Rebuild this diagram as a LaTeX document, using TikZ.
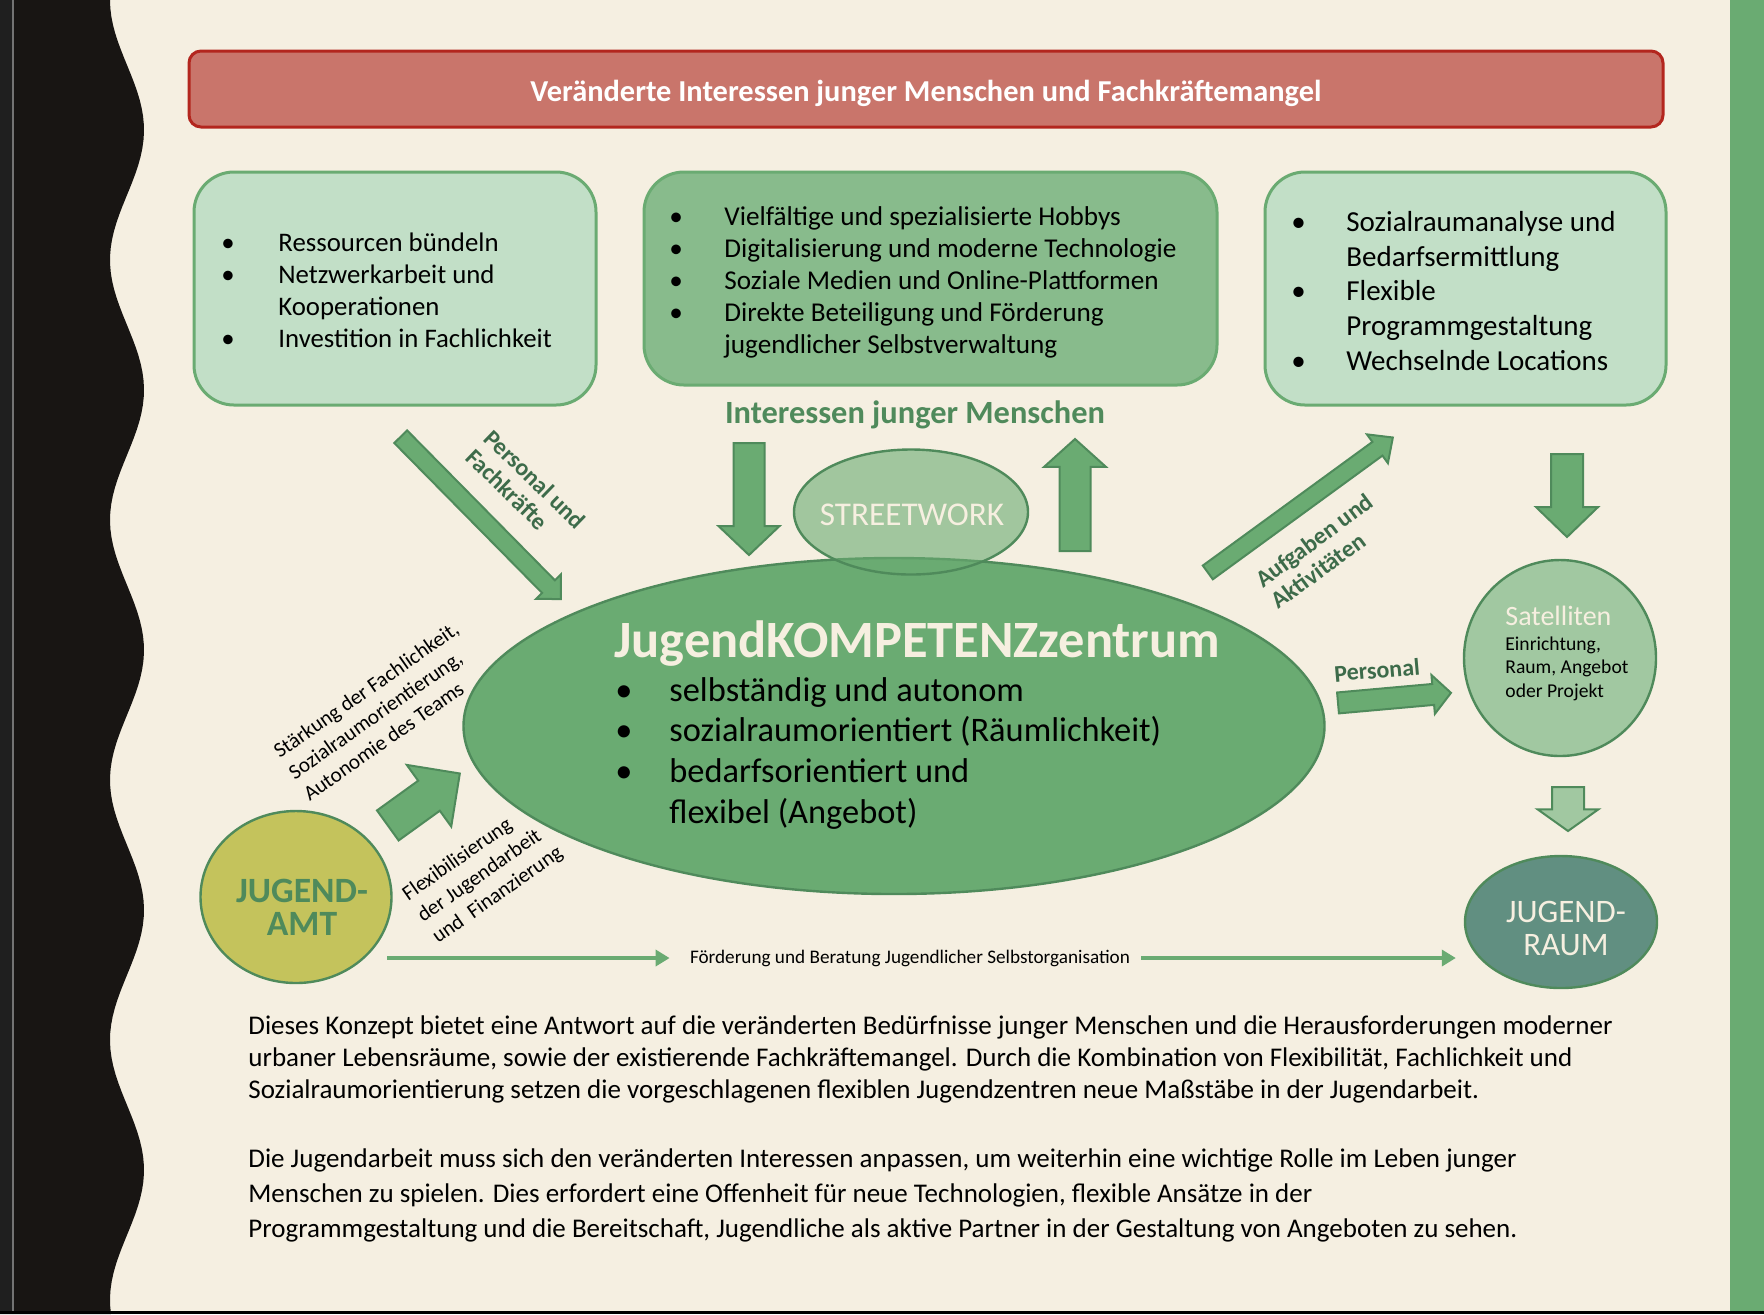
\documentclass[tikz,border=0pt]{standalone}
\usepackage{fontspec}
\setmainfont{Carlito}
\usepackage{xcolor}
\usepackage{tikz}
\usetikzlibrary{arrows.meta,positioning,shapes.geometric,shapes.arrows}

\definecolor{cream}{HTML}{F5EFE1}
\definecolor{inkdark}{HTML}{181513}
\definecolor{bannerfill}{HTML}{C9756B}
\definecolor{bannerline}{HTML}{B3261E}
\definecolor{mint}{HTML}{C2DFC7}
\definecolor{midgreen}{HTML}{88BB8C}
\definecolor{leaf}{HTML}{6AAB72}
\definecolor{darkgreen}{HTML}{4F8A5B}
\definecolor{labelgreen}{HTML}{3D6B4A}
\definecolor{palegreen}{HTML}{A1C8A1}
\definecolor{raumteal}{HTML}{618F81}
\definecolor{amtolive}{HTML}{C4C35C}
\definecolor{creamtext}{HTML}{F6EFE0}

\newcommand{\bul}[1][27.5pt]{\makebox[#1][l]{\textbullet}}
\newcommand{\ind}[1][27.5pt]{\hspace*{#1}}

\begin{document}
\begin{tikzpicture}[x=0.5pt,y=-0.5pt,>=Latex]
  \tikzstyle{box}=[draw=leaf,line width=1.5pt,rounded corners=20pt,inner sep=0pt]
  \tikzstyle{blob}=[ellipse,draw=darkgreen,line width=1.2pt,inner sep=0pt]
  \tikzstyle{blockarr}=[single arrow,draw=darkgreen,fill=leaf,line width=1pt,inner xsep=0pt,anchor=tail]
  \tikzstyle{tag}=[font=\bfseries\fontsize{12pt}{13.4pt}\selectfont,text=labelgreen,align=left,inner sep=0pt]
  \tikzstyle{note}=[font=\fontsize{10.6pt}{13pt}\selectfont,align=left,inner sep=0pt]
  % multi-line lists: placed at the baseline of their last line
  \tikzstyle{list}=[align=left,anchor=base west,inner sep=0pt]
  \tikzstyle{flowline}=[draw=leaf,line width=2pt,-{Triangle[length=7pt,width=8pt]}]
  \useasboundingbox (0,0) rectangle (1764,1314);

  % page background and side strips
  \fill[cream] (0,0) rectangle (1764,1314);
  \fill[inkdark] (0,0) -- plot[domain=0:1314,samples=160] ({127-17*cos(\x*1.3846)},\x) -- (0,1314) -- cycle;
  \fill[black!88] (0,0) rectangle (12,1314);
  \fill[black!55] (12,0) rectangle (14,1314);
  \fill[leaf] (1730,0) rectangle (1764,1314);
  \fill[black] (0,1311) rectangle (1764,1314);

  % banner
  \node[draw=bannerline,fill=bannerfill,line width=1.5pt,rounded corners=6pt,minimum width=737pt,minimum height=38pt] (banner) at (926,89) {};
  \node[font=\bfseries\fontsize{15.2pt}{17pt}\selectfont,text=white] (bannertext) at (926,93)
        {Veränderte Interessen junger Menschen und Fachkräftemangel};

  % three boxes
  \node[box,fill=mint,minimum width=201pt,minimum height=116.5pt] (resbox) at (395,288.5) {};
  \node[box,fill=midgreen,minimum width=286.5pt,minimum height=106.5pt] (hobbybox) at (930.5,278.5) {};
  \node[box,fill=mint,minimum width=200.5pt,minimum height=116.5pt] (raumbox) at (1465.5,288.5) {};
  \node[list,font=\fontsize{13.4pt}{16pt}\selectfont] (restext) at (221,347)
    {\bul[28.5pt]Ressourcen bündeln\\ \bul[28.5pt]Netzwerkarbeit und\\ \ind[28.5pt]Kooperationen\\ \bul[28.5pt]Investition in Fachlichkeit};
  \node[list,font=\fontsize{13.6pt}{15.9pt}\selectfont] (hobbytext) at (669,353)
    {\bul Vielfältige und spezialisierte Hobbys\\ \bul Digitalisierung und moderne Technologie\\ \bul Soziale Medien und Online-Plattformen\\ \bul Direkte Beteiligung und Förderung\\ \ind jugendlicher Selbstverwaltung};
  \node[list,font=\fontsize{14.5pt}{17.3pt}\selectfont] (raumtext) at (1291,370)
    {\bul Sozialraumanalyse und\\ \ind Bedarfsermittlung\\ \bul Flexible\\ \ind Programmgestaltung\\ \bul Wechselnde Locations};

  % centre
  \node[font=\bfseries\fontsize{16.2pt}{19pt}\selectfont,text=darkgreen] (interessen) at (915,415) {Interessen junger Menschen};
  \node[blockarr,minimum height=56pt,inner ysep=7.25pt,single arrow head extend=7.5pt,single arrow tip angle=93,rotate=-90] (intdown) at (749,442) {};
  \node[blockarr,minimum height=56pt,inner ysep=7.25pt,single arrow head extend=7.75pt,single arrow tip angle=96,rotate=90] (intup) at (1075,552) {};
  \node[blob,fill=leaf,minimum width=430.5pt,minimum height=168pt] (kompetenz) at (894,726) {};
  \node[blob,fill=leaf,fill opacity=0.6,minimum width=117pt,minimum height=62.5pt] (street) at (911,512) {};
  \node[text=creamtext,font=\fontsize{16.6pt}{19pt}\selectfont] (streetlabel) at (912,515) {STREETWORK};
  \node[anchor=base west,inner sep=0pt,text=creamtext,font=\bfseries\fontsize{26.2pt}{30pt}\selectfont] (ktitle) at (614,657) {JugendKOMPETENZzentrum};
  \node[list,font=\fontsize{17.2pt}{20.3pt}\selectfont] (klist) at (615,823)
    {\bul[27pt]selbständig und autonom\\ \bul[27pt]sozialraumorientiert (Räumlichkeit)\\ \bul[27pt]bedarfsorientiert und\\ \ind[27pt]flexibel (Angebot)};

  % left side
  \node[blockarr,minimum height=114pt,inner ysep=4pt,single arrow head extend=4.25pt,single arrow tip angle=90,rotate=-45.4] (fachkr) at (400,436) {};
  \node[tag,rotate=-44] (fachlabel) at (526,489) {Personal und\\Fachkräfte};
  \node[blob,fill=amtolive,minimum width=95.5pt,minimum height=86pt] (jamt) at (296,897) {};
  \node[text=darkgreen,font=\bfseries\fontsize{17.8pt}{16.5pt}\selectfont,align=center] (amtlabel) at (302,907) {JUGEND-\\AMT};
  \node[blockarr,minimum height=44.4pt,inner ysep=8.75pt,single arrow head extend=9.75pt,single arrow tip angle=90,rotate=35.8] (amtarr) at (387,826) {};
  \node[note,rotate=35] (staerk) at (381,711) {Stärkung der Fachlichkeit,\\Sozialraumorientierung,\\Autonomie des Teams};
  \node[note,rotate=35] (flex) at (483,874) {Flexibilisierung\\der Jugendarbeit\\und\ \ Finanzierung};

  % right side
  \node[blockarr,minimum height=114.5pt,inner ysep=3.75pt,single arrow head extend=4.65pt,single arrow tip angle=86,rotate=36.1] (aufgarr) at (1207,573) {};
  \node[tag,rotate=36.5] (aufglabel) at (1322,551) {Aufgaben und\\Aktivitäten};
  \node[blockarr,minimum height=41.5pt,inner ysep=7.5pt,single arrow head extend=7.5pt,single arrow tip angle=92,rotate=-90] (satdown) at (1567,453) {};
  \node[blob,fill=palegreen,minimum width=96pt,minimum height=98pt] (sat) at (1560,658) {};
  \node[anchor=base west,inner sep=0pt,text=creamtext,font=\fontsize{14pt}{16pt}\selectfont] (sattitle) at (1505,625) {Satelliten};
  \node[list,font=\fontsize{9.8pt}{11.75pt}\selectfont] (satdesc) at (1505,697) {Einrichtung,\\Raum, Angebot\\oder Projekt};
  \node[blockarr,minimum height=56.7pt,inner ysep=4.75pt,single arrow head extend=4.5pt,single arrow tip angle=95,rotate=5.1] (persarr) at (1337,703) {};
  \node[tag,rotate=5] (perslabel) at (1377,670) {Personal};
  \node[blockarr,fill=palegreen,minimum height=22pt,inner ysep=7.5pt,single arrow head extend=7.25pt,single arrow tip angle=109,rotate=-90] (raumdown) at (1568,786) {};
  \node[blob,fill=raumteal,minimum width=96pt,minimum height=66pt] (jraum) at (1561,922) {};
  \node[text=creamtext,font=\fontsize{16.4pt}{16.5pt}\selectfont,align=center] (raumlabel) at (1566,928.5) {JUGEND-\\RAUM};

  % bottom connector
  \node[font=\fontsize{9.6pt}{11pt}\selectfont,inner sep=0pt] (foerd) at (910,958) {Förderung und Beratung Jugendlicher Selbstorganisation};
  \coordinate (fstart) at (387,958);
  \draw[flowline] (fstart) -- ([xshift=-10pt]foerd.west);
  \draw[flowline] ([xshift=5.5pt]foerd.east) -- ([xshift=-4pt]jraum.west |- foerd);

  % text below
  \node[list,font=\fontsize{13.5pt}{16pt}\selectfont] (para1) at (248,1098)
    {Dieses Konzept bietet eine Antwort auf die veränderten Bedürfnisse junger Menschen und die Herausforderungen moderner\\
     urbaner Lebensräume, sowie der existierende Fachkräftemangel. Durch die Kombination von Flexibilität, Fachlichkeit und\\
     Sozialraumorientierung setzen die vorgeschlagenen flexiblen Jugendzentren neue Maßstäbe in der Jugendarbeit.};
  \node[list,font=\fontsize{13.5pt}{17.5pt}\selectfont] (para2) at (248,1237)
    {Die Jugendarbeit muss sich den veränderten Interessen anpassen, um weiterhin eine wichtige Rolle im Leben junger\\
     Menschen zu spielen. Dies erfordert eine Offenheit für neue Technologien, flexible Ansätze in der\\
     Programmgestaltung und die Bereitschaft, Jugendliche als aktive Partner in der Gestaltung von Angeboten zu sehen.};
\end{tikzpicture}
\end{document}
